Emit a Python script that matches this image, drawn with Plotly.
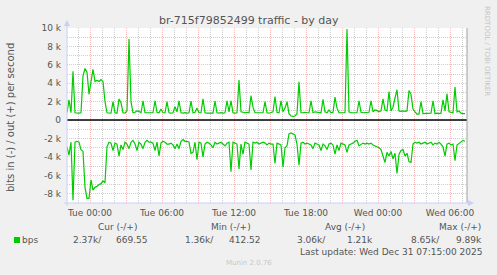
import pandas as pd
import plotly.graph_objects as go

# ---------------- data ----------------
out_bps = [800, 2200, 800, 5300, 800, 750, 750, 800, 4800, 5600,
           5200, 2800, 4300, 5500, 4200, 4300, 4200, 4400, 4200, 2000,
           800, 800, 750, 2000, 800, 750, 2300, 1900, 800, 750,
           1000, 8800, 2000, 800, 850, 1000, 950, 800, 2100, 800,
           800, 750, 800, 800, 2100, 850, 800, 1200, 800, 800,
           2000, 800, 750, 800, 1450, 900, 2100, 800, 750, 800,
           750, 800, 2050, 800, 850, 1300, 800, 800, 2300, 800,
           750, 750, 800, 750, 2050, 800, 750, 800, 750, 800,
           2100, 900, 2100, 800, 750, 800, 4350, 900, 850, 800,
           850, 800, 2650, 1400, 800, 800, 750, 800, 800, 2000,
           800, 750, 800, 900, 2550, 850, 800, 2100, 900, 1300,
           2000, 700, 450, 400, 450, 700, 4150, 800, 800, 850,
           800, 800, 2100, 800, 900, 850, 800, 800, 2250, 900,
           800, 1100, 800, 850, 2500, 1300, 800, 800, 850, 800,
           9900, 900, 800, 800, 850, 800, 2100, 850, 800, 800,
           800, 850, 2100, 900, 1100, 1050, 900, 1000, 2300, 1100,
           1000, 3100, 1000, 1400, 2400, 3300, 1000, 950, 1000, 950,
           1000, 3200, 2800, 1200, 900, 650, 650, 2000, 700, 700,
           750, 700, 750, 2100, 700, 750, 700, 750, 2200, 1000,
           2850, 900, 850, 800, 3600, 900, 1000, 750, 700, 700]

in_bps = [2900, 3800, 2400, 8700, 2400, 2300, 2400, 3200, 3400, 7300,
          8500, 8500, 6500, 7600, 7300, 7200, 7000, 6900, 6600, 6800,
          2900, 2400, 2500, 3300, 2500, 2600, 3900, 2700, 3200, 2400,
          2600, 3100, 2400, 2200, 2600, 3300, 2400, 2600, 3100, 2400,
          2200, 2400, 2400, 2500, 3300, 2400, 3900, 2500, 2300, 2400,
          2600, 2600, 2500, 2700, 3100, 2600, 3100, 2300, 2100, 2300,
          2300, 2400, 3600, 3500, 2400, 4300, 2400, 2500, 4000, 2600,
          2400, 2500, 2700, 3000, 2400, 2600, 2500, 2400, 2600, 2800,
          2500, 2400, 5600, 2400, 2500, 2600, 5300, 2600, 3700, 2400,
          2500, 2600, 5400, 2400, 2500, 2400, 2600, 2500, 2400, 2500,
          2700, 2500, 2600, 2600, 4700, 2500, 2600, 2700, 5100, 3000,
          2800, 1500, 1400, 1500, 1600, 2600, 4900, 2500, 2400, 2600,
          2500, 2600, 2700, 3100, 2500, 2600, 2700, 3300, 2600, 2800,
          3200, 2600, 2500, 2700, 3700, 2700, 3300, 2500, 2600, 2700,
          3500, 2700, 2600, 2500, 2300, 2200, 2800, 2600, 2500, 2600,
          2500, 2600, 2500, 2700, 2800, 2900, 3000, 3200, 3900, 4600,
          3500, 3900, 3400, 4200, 3600, 5800, 3700, 3300, 3200, 3900,
          3600, 4500, 4600, 2600, 2400, 2500, 2400, 2600, 2500, 2400,
          2600, 2500, 2400, 2700, 2500, 2600, 2400, 2600, 2900, 3900,
          2600, 2500, 2700, 2600, 4400, 2700, 2500, 2400, 2200, 2300]

start_time = "2025-12-29 22:05"
end_time = "2025-12-31 07:25"
sample_step = "10min"

x_tick_labels = ["Tue 00:00", "Tue 06:00", "Tue 12:00", "Tue 18:00", "Wed 00:00", "Wed 06:00"]
y_tick_values = [-8000, -6000, -4000, -2000, 0, 2000, 4000, 6000, 8000, 10000]
y_tick_labels = ["-8 k", "-6 k", "-4 k", "-2 k", "0", "2 k", "4 k", "6 k", "8 k", "10 k"]
y_minor_values = [-9000, -7000, -5000, -3000, -1000, 1000, 3000, 5000, 7000, 9000]

title_text = "br-715f79852499 traffic - by day"
y_title = "bits in (-) / out (+) per second"
legend_headers = ["Cur (-/+)", "Min (-/+)", "Avg (-/+)", "Max (-/+)"]
legend_label = "bps"
legend_values = ["2.37k/", "669.55", "1.36k/", "412.52", "3.06k/", "1.21k", "8.65k/", "9.89k"]
last_update = "Last update: Wed Dec 31 07:15:00 2025"
watermark = "RRDTOOL / TOBI OETIKER"
version_text = "Munin 2.0.76"

# ---------------- layout geometry ----------------
W, H = 497, 275
L, R, T, B = 67, 467, 28, 203


def px(x):
    return (x - L) / (R - L)


def py(y):
    return (B - y) / (B - T)


FONT = "DejaVu Sans"
TXT = "#555555"
GREEN = "#00CC00"
MAJOR = "rgba(235,110,110,0.45)"
MINOR = "rgba(160,160,160,0.5)"
AXIS = "#C8D0F4"

times = pd.date_range(start_time, periods=len(out_bps), freq=sample_step)
major_times = pd.date_range("2025-12-30 00:00", "2025-12-31 06:00", freq="3h")
minor_times = [t for t in pd.date_range("2025-12-29 23:00", "2025-12-31 07:00", freq="1h")
               if t not in set(major_times)]
tick_text = []
k = 0
for i in range(len(major_times)):
    if i % 2 == 0:
        tick_text.append(x_tick_labels[k])
        k += 1
    else:
        tick_text.append("")

fig = go.Figure()
fig.add_trace(go.Scatter(x=times, y=out_bps, mode="lines",
                         line=dict(color=GREEN, width=1.2), hoverinfo="skip"))
fig.add_trace(go.Scatter(x=times, y=[-v for v in in_bps], mode="lines",
                         line=dict(color=GREEN, width=1.2), hoverinfo="skip"))

fig.update_layout(
    width=W, height=H, autosize=False,
    margin=dict(l=L, r=W - R, t=T, b=H - B, pad=0),
    paper_bgcolor="#F0F0F0", plot_bgcolor="#FFFFFF",
    showlegend=False,
    font=dict(family=FONT, size=9, color=TXT),
)
fig.update_xaxes(
    type="date", range=[start_time, end_time],
    tickmode="array", tickvals=major_times, ticktext=tick_text,
    showgrid=True, gridcolor=MAJOR, griddash="1px,1px", gridwidth=1,
    minor=dict(tickmode="array", tickvals=minor_times, showgrid=True,
               gridcolor=MINOR, griddash="1px,1px", gridwidth=1),
    ticks="", zeroline=False, showline=False,
    tickfont=dict(family=FONT, size=9, color=TXT),
    ticklabelstandoff=3,
)
fig.update_yaxes(
    range=[-9000, 10000],
    tickmode="array", tickvals=y_tick_values, ticktext=y_tick_labels,
    showgrid=True, gridcolor=MAJOR, griddash="1px,1px", gridwidth=1,
    minor=dict(tickmode="array", tickvals=y_minor_values, showgrid=True,
               gridcolor=MINOR, griddash="1px,1px", gridwidth=1),
    ticks="", zeroline=False, showline=False,
    tickfont=dict(family=FONT, size=9, color=TXT),
    ticklabelstandoff=5,
)

shapes = []
# zero rule
shapes.append(dict(type="line", xref="paper", yref="y", x0=0, x1=1, y0=0, y1=0,
                   line=dict(color="#000000", width=1.5), layer="above"))
# right edge rule
shapes.append(dict(type="line", xref="paper", yref="paper", x0=1, x1=1, y0=0, y1=1,
                   line=dict(color="#A0A0A0", width=1), layer="above"))
# axes
shapes.append(dict(type="line", xref="paper", yref="paper", x0=0, x1=0, y0=py(B + 3), y1=py(24),
                   line=dict(color=AXIS, width=1), layer="above"))
shapes.append(dict(type="line", xref="paper", yref="paper", x0=px(L - 3), x1=px(469), y0=0, y1=0,
                   line=dict(color=AXIS, width=1), layer="above"))
# arrows
shapes.append(dict(type="path", xref="paper", yref="paper",
                   path="M %f,%f L %f,%f L %f,%f Z" % (px(L - 3), py(26), px(L + 3), py(26), px(L), py(20)),
                   fillcolor=AXIS, line=dict(width=0), layer="above"))
shapes.append(dict(type="path", xref="paper", yref="paper",
                   path="M %f,%f L %f,%f L %f,%f Z" % (px(468), py(B - 3), px(468), py(B + 3), px(474), py(B)),
                   fillcolor=AXIS, line=dict(width=0), layer="above"))
# legend colour box
shapes.append(dict(type="rect", xref="paper", yref="paper",
                   x0=px(14), x1=px(20), y0=py(243), y1=py(237),
                   fillcolor=GREEN, line=dict(width=0)))
fig.update_layout(shapes=shapes)

ann = []


def text(x, y, s, size=9, color=TXT, xanchor="center", angle=0):
    ann.append(dict(xref="paper", yref="paper", x=px(x), y=py(y), text=s, showarrow=False,
                    xanchor=xanchor, yanchor="middle", textangle=angle,
                    font=dict(family=FONT, size=size, color=color)))


text(248.5, 21, title_text, size=11)
text(11, 118, y_title, size=10, angle=-90)
text(487, 51, watermark, size=7, color="#C4C4C4", angle=90)
for hx, h in zip([117, 231, 345, 460], legend_headers):
    text(hx, 227, h)
text(20, 239.5, legend_label, xanchor="left")
for vx, v in zip([103, 149, 215, 262, 327, 374, 441, 483], legend_values):
    text(vx + 1, 239.5, v, xanchor="right")
text(484, 251.5, last_update, xanchor="right")
text(248.5, 262.5, version_text, size=7, color="#C8C8C8")
fig.update_layout(annotations=ann)

fig.write_html("out.html")
